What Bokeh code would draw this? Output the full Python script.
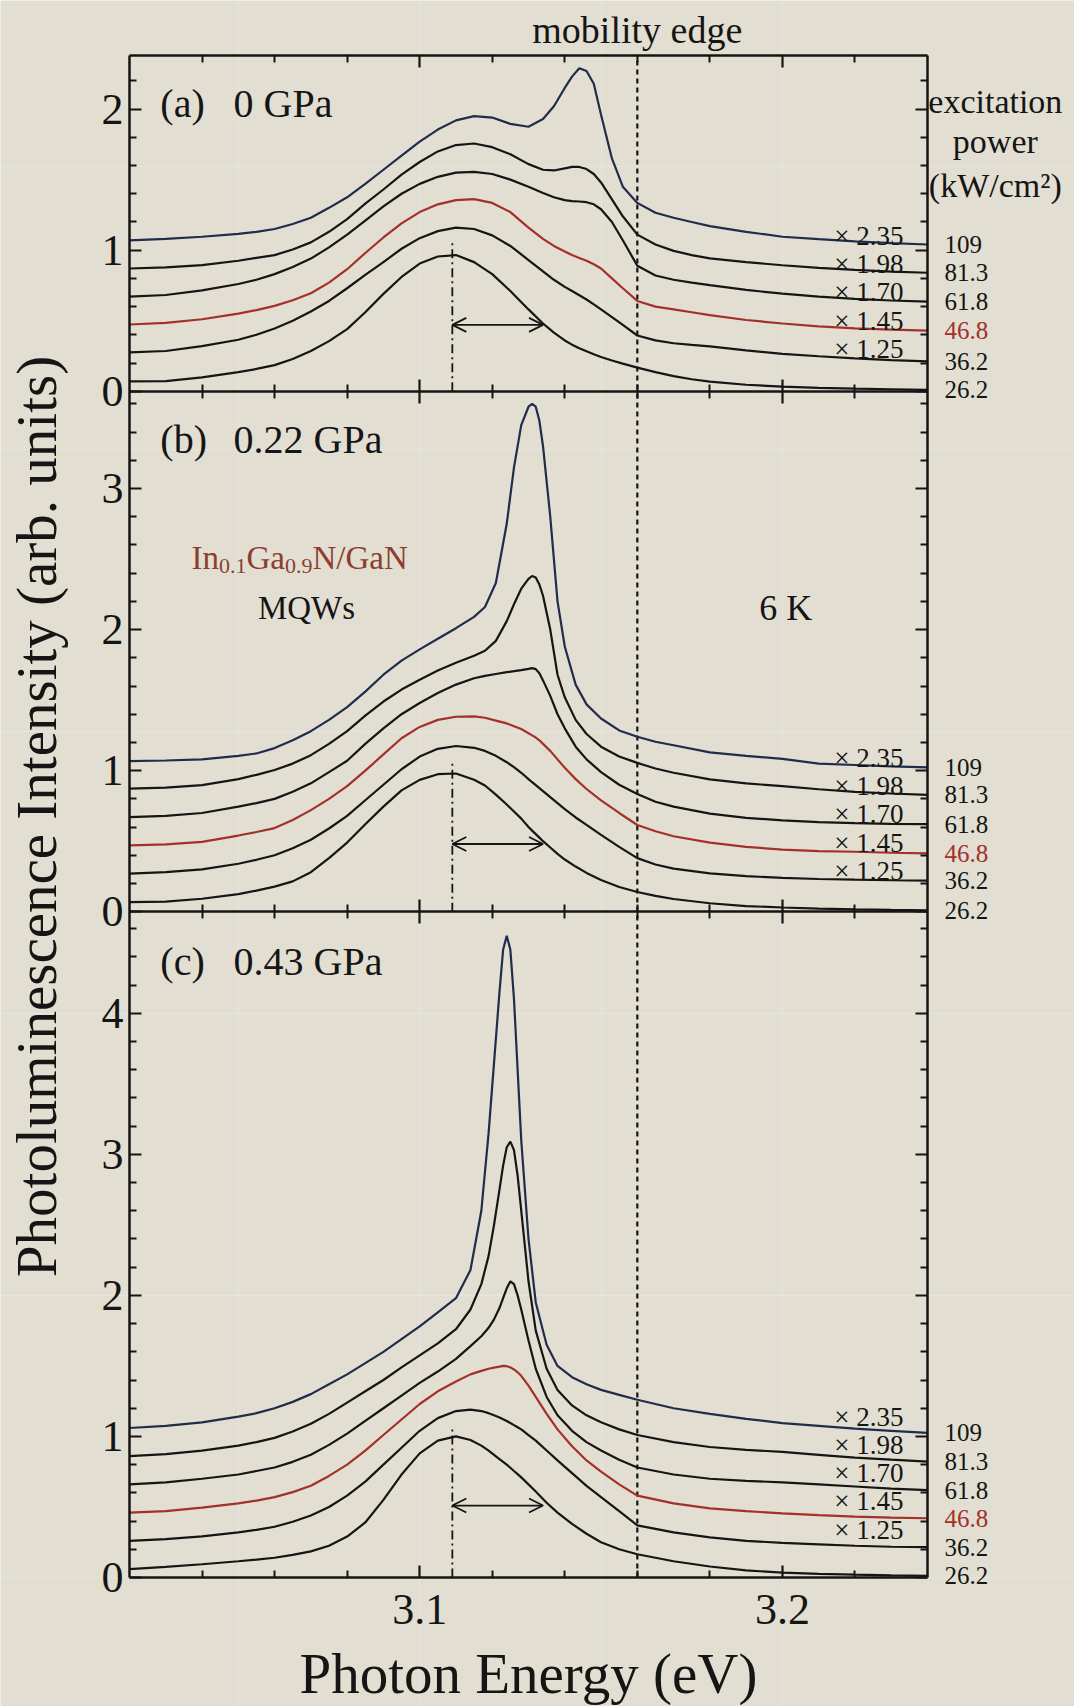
from bokeh.plotting import figure
from bokeh.models import (Range1d, LinearAxis, FixedTicker, Label, Arrow, OpenHead,
                          CustomJSTickFormatter)
from bokeh.embed import file_html
from bokeh.resources import INLINE

FONT = "Liberation Serif"
INK = "#151515"
RED = "#a3302b"
NAVY = "#1f2c4c"
PAPER = "#e2ded1"

# excitation power (kW/cm^2), bottom trace to top trace
powers = ["26.2", "36.2", "46.8", "61.8", "81.3", "109"]
scale_labels = ["", "\u00d7 1.25", "\u00d7 1.45", "\u00d7 1.70", "\u00d7 1.98", "\u00d7 2.35"]
trace_offsets = [0.0, 0.2, 0.4, 0.6, 0.8, 1.0]
trace_colors = [INK, INK, RED, INK, INK, NAVY]

band_peak = 3.109      # low-power band maximum (eV)
band_hwhm = 0.025      # half width on the high-energy side (eV)
mobility_edge = 3.16   # eV

# (a) 0 GPa
energy_a = [3.020, 3.030, 3.040, 3.050, 3.055, 3.060, 3.065, 3.070, 3.075, 3.080,
            3.085, 3.090, 3.095, 3.100, 3.105, 3.110, 3.115, 3.120, 3.125, 3.130,
            3.134, 3.137, 3.140, 3.142, 3.144, 3.146, 3.148, 3.150, 3.153, 3.156,
            3.160, 3.165, 3.170, 3.175, 3.180, 3.190, 3.200, 3.210, 3.220, 3.230, 3.240]
pl_a = [
    [.070, .072, .098, .135, .158, .185, .228, .285, .355, .440, .560, .690, .810, .905, .955, .965, .915, .830, .710, .580,
     .480, .415, .360, .330, .305, .283, .262, .243, .218, .196, .167, .135, .107, .085, .068, .046, .032, .024, .018, .014, .010],
    [.075, .085, .120, .165, .200, .245, .300, .365, .440, .530, .625, .715, .810, .885, .935, .960, .950, .905, .830, .730,
     .650, .590, .540, .510, .480, .450, .415, .380, .325, .270, .195, .160, .140, .128, .118, .090, .065, .048, .033, .020, .012],
    [.073, .085, .110, .150, .175, .205, .245, .295, .370, .465, .580, .690, .790, .870, .925, .955, .962, .935, .870, .760,
     .680, .630, .590, .565, .545, .525, .500, .470, .400, .330, .240, .200, .180, .160, .140, .105, .080, .060, .045, .036, .030],
    [.070, .082, .115, .160, .190, .230, .280, .340, .420, .510, .610, .710, .800, .870, .920, .950, .955, .940, .900, .850,
     .805, .775, .755, .748, .745, .740, .725, .690, .600, .470, .290, .220, .190, .170, .152, .118, .092, .070, .055, .043, .035],
    [.070, .078, .094, .125, .145, .165, .205, .255, .330, .420, .530, .630, .735, .825, .900, .945, .956, .930, .880, .810,
     .770, .765, .780, .790, .790, .775, .740, .680, .560, .440, .310, .240, .195, .165, .142, .115, .093, .075, .060, .048, .040],
    [.070, .080, .095, .115, .130, .150, .185, .230, .300, .375, .470, .570, .670, .770, .855, .920, .950, .940, .895, .875,
     .930, 1.020, 1.150, 1.230, 1.290, 1.270, 1.180, .960, .650, .450, .335, .265, .230, .200, .170, .130, .095, .078, .062, .050, .040],
]

# (b) 0.22 GPa
energy_b = [3.020, 3.030, 3.040, 3.050, 3.055, 3.060, 3.065, 3.070, 3.075, 3.080,
            3.085, 3.090, 3.095, 3.100, 3.105, 3.110, 3.115, 3.118, 3.121, 3.124,
            3.126, 3.128, 3.130, 3.131, 3.132, 3.133, 3.134, 3.136, 3.138, 3.140,
            3.143, 3.146, 3.150, 3.155, 3.160, 3.165, 3.170, 3.180, 3.190, 3.200,
            3.210, 3.220, 3.230, 3.240]
pl_b = [
    [.068, .072, .092, .125, .150, .178, .215, .280, .380, .490, .620, .745, .860, .935, .975, .980, .935, .895, .830, .760,
     .710, .660, .600, .575, .550, .525, .500, .455, .410, .370, .320, .275, .225, .175, .140, .112, .090, .060, .040, .030,
     .022, .017, .013, .010],
    [.070, .080, .100, .140, .168, .200, .250, .310, .390, .480, .590, .700, .810, .900, .955, .975, .962, .940, .905, .860,
     .825, .785, .740, .718, .697, .676, .655, .612, .570, .528, .468, .415, .345, .260, .180, .135, .105, .072, .052, .040,
     .032, .027, .023, .020],
    [.070, .078, .095, .140, .165, .193, .250, .320, .400, .490, .600, .715, .830, .910, .960, .982, .985, .975, .955, .935,
     .915, .895, .865, .850, .835, .815, .790, .740, .680, .620, .540, .470, .390, .300, .215, .170, .135, .090, .060, .040,
     .030, .025, .018, .014],
    [.070, .080, .100, .145, .170, .200, .250, .310, .390, .470, .590, .700, .800, .880, .950, 1.010, 1.055, 1.072, 1.085, 1.098,
     1.105, 1.113, 1.122, 1.127, 1.120, 1.090, 1.040, .930, .800, .700, .570, .480, .390, .300, .235, .180, .145, .095, .065, .048,
     .035, .028, .023, .021],
    [.073, .080, .097, .140, .170, .205, .250, .310, .390, .480, .590, .690, .775, .845, .910, .965, 1.015, 1.050, 1.120, 1.260,
     1.380, 1.490, 1.560, 1.580, 1.570, 1.520, 1.440, 1.200, .880, .720, .560, .460, .370, .300, .255, .215, .185, .138, .110, .090,
     .068, .050, .038, .028],
    [.068, .072, .080, .105, .122, .160, .215, .280, .360, .450, .560, .680, .780, .860, .935, 1.010, 1.090, 1.160, 1.330, 1.750,
     2.150, 2.450, 2.580, 2.600, 2.580, 2.480, 2.300, 1.800, 1.200, .880, .610, .470, .370, .285, .240, .205, .180, .130, .105, .084,
     .050, .040, .030, .023],
]

# (c) 0.43 GPa
energy_c = [3.020, 3.030, 3.040, 3.050, 3.055, 3.060, 3.065, 3.070, 3.075, 3.080,
            3.085, 3.090, 3.095, 3.100, 3.105, 3.110, 3.114, 3.117, 3.119, 3.1205,
            3.122, 3.123, 3.124, 3.125, 3.126, 3.127, 3.128, 3.130, 3.132, 3.135,
            3.138, 3.142, 3.146, 3.150, 3.155, 3.160, 3.170, 3.180, 3.190, 3.200,
            3.210, 3.220, 3.230, 3.240]
pl_c = [
    [.060, .075, .094, .115, .127, .140, .160, .185, .225, .290, .390, .550, .730, .880, .970, 1.000, .975, .935, .900, .870,
     .840, .820, .800, .778, .755, .733, .710, .660, .610, .530, .460, .380, .310, .250, .200, .165, .115, .078, .050, .035,
     .026, .020, .015, .012],
    [.060, .072, .092, .120, .138, .160, .195, .240, .300, .380, .480, .600, .720, .840, .930, .980, .990, .980, .965, .950,
     .935, .922, .910, .895, .880, .865, .850, .810, .770, .700, .630, .540, .450, .370, .270, .170, .120, .085, .060, .045,
     .035, .025, .018, .015],
    [.060, .070, .095, .125, .145, .170, .205, .250, .320, .400, .500, .610, .720, .830, .920, .990, 1.040, 1.065, 1.080, 1.088,
     1.095, 1.100, 1.098, 1.090, 1.075, 1.055, 1.030, .960, .880, .760, .650, .530, .430, .350, .260, .180, .125, .090, .070, .055,
     .042, .032, .025, .020],
    [.060, .075, .100, .130, .155, .180, .220, .270, .340, .420, .510, .600, .690, .780, .860, .950, 1.040, 1.110, 1.170, 1.230,
     1.310, 1.380, 1.450, 1.500, 1.480, 1.400, 1.300, 1.080, .880, .680, .550, .440, .360, .300, .235, .180, .130, .100, .085, .075,
     .060, .045, .030, .020],
    [.060, .075, .100, .135, .160, .190, .235, .290, .360, .440, .520, .600, .690, .775, .860, .960, 1.100, 1.280, 1.480, 1.700,
     1.950, 2.120, 2.250, 2.290, 2.230, 2.050, 1.800, 1.300, .950, .680, .530, .420, .350, .300, .250, .210, .160, .125, .105, .090,
     .070, .050, .035, .022],
    [.060, .075, .100, .140, .165, .200, .245, .300, .370, .440, .520, .600, .690, .780, .880, .980, 1.180, 1.600, 2.150, 2.650,
     3.150, 3.450, 3.550, 3.450, 3.100, 2.600, 2.100, 1.400, .950, .650, .500, .420, .370, .330, .295, .260, .200, .160, .125, .095,
     .075, .055, .040, .025],
]

# stacked layout: (range name, energies, spectra, panel height, base in stacked units)
panels = [
    ("a", energy_a, pl_a, 2.38, 8.41),
    ("b", energy_b, pl_b, 3.69, 4.72),
    ("c", energy_c, pl_c, 4.72, 0.0),
]
STACK_TOP = 10.79
E_MIN, E_MAX = 3.02, 3.24

# the frame covers the whole canvas; the plot box is drawn by axes at fixed locations
PX_PER_EV = 798 / (E_MAX - E_MIN)
PX_PER_UNIT = 1522 / STACK_TOP
x_lo = E_MIN - 129 / PX_PER_EV
x_hi = x_lo + 1074 / PX_PER_EV
y_lo = -129 / PX_PER_UNIT
y_hi = y_lo + 1706 / PX_PER_UNIT

p = figure(width=1074, height=1706, x_range=Range1d(x_lo, x_hi), y_range=Range1d(y_lo, y_hi),
           output_backend="svg", toolbar_location=None, x_axis_location=None, y_axis_location=None,
           min_border=0)
p.background_fill_color = PAPER
p.border_fill_color = PAPER
p.outline_line_color = None

for name, _, _, span, base in panels:
    p.extra_y_ranges[name] = Range1d(y_lo - base, y_hi - base)

x_ticker = FixedTicker(ticks=[3.1, 3.2],
                       minor_ticks=[3.04, 3.06, 3.08, 3.12, 3.14, 3.16, 3.18, 3.22])
major_y, minor_y = [], []
for name, _, _, span, base in panels:
    k = 0
    while k <= span + 1e-9:
        major_y.append(round(base + k, 4))
        k += 1
    j = 1
    while 0.2 * j < span - 1e-6:
        if j % 5:
            minor_y.append(round(base + 0.2 * j, 4))
        j += 1
y_ticker = FixedTicker(ticks=major_y, minor_ticks=minor_y)
bases = sorted({b for *_, b in panels}, reverse=True)
y_fmt = CustomJSTickFormatter(code="""
const bases = %s;
for (const b of bases) { if (tick > b - 1e-6) { return String(Math.round(tick - b)); } }
return "";
""" % str(bases))


def make_axis(side, loc, ticker, show_labels, both=False, **kw):
    ax = LinearAxis(ticker=ticker, fixed_location=loc, **kw)
    ax.bounds = (0, STACK_TOP) if side in ("left", "right") else (E_MIN, E_MAX)
    ax.axis_line_color = INK
    ax.axis_line_width = 2.5
    ax.major_tick_line_color = INK
    ax.major_tick_line_width = 2.2
    ax.minor_tick_line_color = INK
    ax.minor_tick_line_width = 2.0
    ax.major_tick_in = 12
    ax.major_tick_out = 12 if both else 0
    ax.minor_tick_in = 7
    ax.minor_tick_out = 7 if both else 0
    ax.major_label_text_font = FONT
    ax.major_label_text_font_size = "44px"
    ax.major_label_text_color = INK if show_labels else None
    ax.axis_label_text_font = FONT
    ax.axis_label_text_font_style = "normal"
    ax.axis_label_text_font_size = "57px"
    ax.axis_label_text_color = INK
    p.add_layout(ax, side)
    return ax


xb = make_axis("below", 0.0, x_ticker, True, axis_label="Photon Energy (eV)")
xb.major_label_standoff = 17
xb.axis_label_standoff = 15
make_axis("above", STACK_TOP, x_ticker, False)
yl = make_axis("left", E_MIN, y_ticker, True, formatter=y_fmt,
               axis_label="Photoluminescence Intensity (arb. units)")
yl.major_label_standoff = 6
yl.axis_label_standoff = 31
make_axis("right", E_MAX, y_ticker, False)
# shared energy axes between stacked panels
for name, _, _, span, base in panels:
    if base > 0:
        make_axis("below", base, x_ticker, False, both=True)

p.segment(x0=[mobility_edge], y0=[0], x1=[mobility_edge], y1=[STACK_TOP],
          line_color=INK, line_dash="5 4", line_width=2.2)


def label(text, x, y, rng, size, color=INK, align="left", x_off=0, y_off=0):
    p.add_layout(Label(x=x, y=y, y_range_name=rng, text=text, text_font=FONT,
                       text_font_size=f"{size}px", text_color=color, text_align=align,
                       text_baseline="middle", x_offset=x_off, y_offset=y_off))


scale_shift = {"a": 0.10, "b": 0.09, "c": 0.14}
arrow_level = {"a": 0.47, "b": 0.48, "c": 0.51}
for name, energy, spectra, span, base in panels:
    for i, row in enumerate(spectra):
        y = [v + trace_offsets[i] for v in row]
        p.line(energy, y, y_range_name=name, line_color=trace_colors[i], line_width=2.2)
        # excitation power beside the right axis, level with the trace end
        label(powers[i], 3.2447, y[-1], name, 25, color=RED if i == 2 else INK)
        if scale_labels[i]:
            label(scale_labels[i], 3.2334, trace_offsets[i] + scale_shift[name], name, 27, align="right")
    p.segment(x0=[band_peak], y0=[0], x1=[band_peak], y1=[1.05], y_range_name=name,
              line_color=INK, line_width=1.8, line_dash="9 4 2 4")
    lvl = arrow_level[name]
    p.add_layout(Arrow(x_start=band_peak, x_end=band_peak + band_hwhm, y_start=lvl, y_end=lvl,
                       y_range_name=name, line_color=INK, line_width=1.8,
                       start=OpenHead(size=14, line_color=INK, line_width=1.8),
                       end=OpenHead(size=14, line_color=INK, line_width=1.8)))

for rng, tag, pressure, yc in [("a", "(a)", "0 GPa", 2.04), ("b", "(b)", "0.22 GPa", 3.35),
                               ("c", "(c)", "0.43 GPa", 4.37)]:
    label(tag, 3.0285, yc, rng, 40)
    label(pressure, 3.0487, yc, rng, 40)

# sample name with subscripts
mat = [("In", 33, 0), ("0.1", 22, -8), ("Ga", 33, 0), ("0.9", 22, -8), ("N/GaN", 33, 0)]
widths = [27.5, 27.5, 38.5, 27.5, 95]
xo = 0
for (txt, sz, yo), w in zip(mat, widths):
    label(txt, 3.0371, 2.51, "b", sz, color="#8c3f2e", x_off=xo, y_off=yo)
    xo += w
label("MQWs", 3.0688, 2.15, "b", 33, align="center")
label("6 K", 3.2009, 2.15, "b", 36, align="center")

label("mobility edge", mobility_edge, 2.56, "a", 38, align="center")
label("excitation", 3.2587, 2.057, "a", 34, align="center")
label("power", 3.2587, 1.773, "a", 34, align="center")
label("(kW/cm\u00b2)", 3.2587, 1.461, "a", 34, align="center")

open("out.html", "w").write(file_html(p, INLINE))
